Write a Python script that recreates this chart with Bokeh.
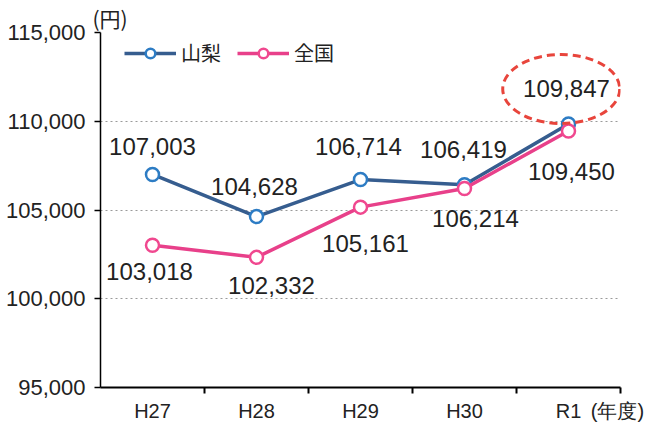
import numpy as np
from bokeh.plotting import figure
from bokeh.models import (ColumnDataSource, FixedTicker, NumeralTickFormatter, Legend, LegendItem,
                          Range1d, Title)
from bokeh.core.properties import value
from bokeh.embed import file_html
from bokeh.resources import INLINE

# ---- data ----
years = ["H27", "H28", "H29", "H30", "R1"]
yamanashi = [107003, 104628, 106714, 106419, 109847]
zenkoku = [103018, 102332, 105161, 106214, 109450]
y_ticks = [95000, 100000, 105000, 110000, 115000]
series_names = ["山梨", "全国"]
unit_y = "(円)"
unit_x = "(年度)"

# ---- styles ----
NUM_FONT = "Liberation Sans"
CJK_FONT = "Noto Sans CJK JP"
YAM_LINE = "#365d8f"
YAM_MARK = "#2d7cc4"
ZEN_LINE = "#e8408a"
ZEN_MARK = "#f0488f"

xc = np.arange(len(years)) + 0.5
bounds = list(np.arange(1, len(years) + 1).astype(float))
unit_x_pos = len(years) - 0.03

# label offsets (pixels, style only)
yam_dx = [0, -2, -2, -1, -2]
yam_dy = [-28, -30, -33, -35, -35]
zen_dx = [-3, 15, 5, 11, 3]
zen_dy = [26, 28, 36, 30, 40]

src_y = ColumnDataSource(dict(x=xc, y=yamanashi, t=[f"{v:,}" for v in yamanashi], dx=yam_dx, dy=yam_dy))
src_z = ColumnDataSource(dict(x=xc, y=zenkoku, t=[f"{v:,}" for v in zenkoku], dx=zen_dx, dy=zen_dy))

p = figure(width=645, height=426, output_backend="svg", toolbar_location=None,
           x_range=Range1d(0, len(years)), y_range=Range1d(y_ticks[0], y_ticks[-1]),
           min_border_left=100, min_border_right=25, min_border_top=31, min_border_bottom=39)
p.outline_line_color = None
p.background_fill_color = "white"
p.border_fill_color = "white"

p.title = Title(text=unit_y, align="left", offset=-8, standoff=0, text_line_height=0.85,
                text_font=CJK_FONT, text_font_size="21px", text_font_style="normal",
                text_color="#222222")

# axes
xa = p.xaxis[0]
xa.ticker = FixedTicker(ticks=list(xc) + [unit_x_pos], minor_ticks=bounds)
overrides = {float(c): y for c, y in zip(xc, years)}
overrides[float(unit_x_pos)] = unit_x
xa.major_label_overrides = overrides
xa.major_tick_out = 0
xa.major_tick_in = 0
xa.minor_tick_out = 6
xa.minor_tick_in = 0
xa.minor_tick_line_color = "black"
xa.minor_tick_line_width = 2
xa.axis_line_color = "black"
xa.axis_line_width = 2
xa.major_label_text_font = NUM_FONT
xa.major_label_text_font_size = "20px"
xa.major_label_text_color = "#222222"
xa.major_label_standoff = 6

ya = p.yaxis[0]
ya.ticker = FixedTicker(ticks=y_ticks)
ya.formatter = NumeralTickFormatter(format="0,0")
ya.major_tick_out = 6
ya.major_tick_in = 0
ya.major_tick_line_color = "black"
ya.major_tick_line_width = 1.5
ya.axis_line_color = "black"
ya.axis_line_width = 1.5
ya.major_label_text_font = NUM_FONT
ya.major_label_text_font_size = "22px"
ya.major_label_text_color = "#222222"
ya.major_label_standoff = 9

p.xgrid.visible = False
p.ygrid.grid_line_color = "#9a9a9a"
p.ygrid.grid_line_dash = "2 3"
p.ygrid.grid_line_width = 1

# lines & markers
l1 = p.line("x", "y", source=src_y, line_color=YAM_LINE, line_width=3.5)
m1 = p.scatter("x", "y", source=src_y, marker="circle", size=13, fill_color="white",
               line_color=YAM_MARK, line_width=2.5)
l2 = p.line("x", "y", source=src_z, line_color=ZEN_LINE, line_width=3.5)
m2 = p.scatter("x", "y", source=src_z, marker="circle", size=13, fill_color="white",
               line_color=ZEN_MARK, line_width=2.5)

# value labels
for s in (src_y, src_z):
    p.text("x", "y", text="t", source=s, x_offset="dx", y_offset="dy",
           text_align="center", text_baseline="middle",
           text_font=value(NUM_FONT), text_font_size="24px", text_color="#222222")

# highlight ellipse around the latest Yamanashi value
p.ellipse(x=[xc[-1] - 0.07], y=[yamanashi[-1] + 1970], width=117, height=69,
          width_units="screen", height_units="screen", fill_color=None,
          line_color="#e8453c", line_width=3, line_dash="8 5")

# legend
legend = Legend(items=[LegendItem(label=series_names[0], renderers=[l1, m1]),
                       LegendItem(label=series_names[1], renderers=[l2, m2])],
                orientation="horizontal", location=(24, 320),
                glyph_width=52, glyph_height=24, label_height=24,
                label_text_font=CJK_FONT, label_text_font_size="20px",
                label_text_color="#222222", label_standoff=5, spacing=16,
                padding=5, margin=0, border_line_color=None,
                background_fill_alpha=0)
p.add_layout(legend, "center")

open("out.html", "w").write(file_html(p, INLINE))
